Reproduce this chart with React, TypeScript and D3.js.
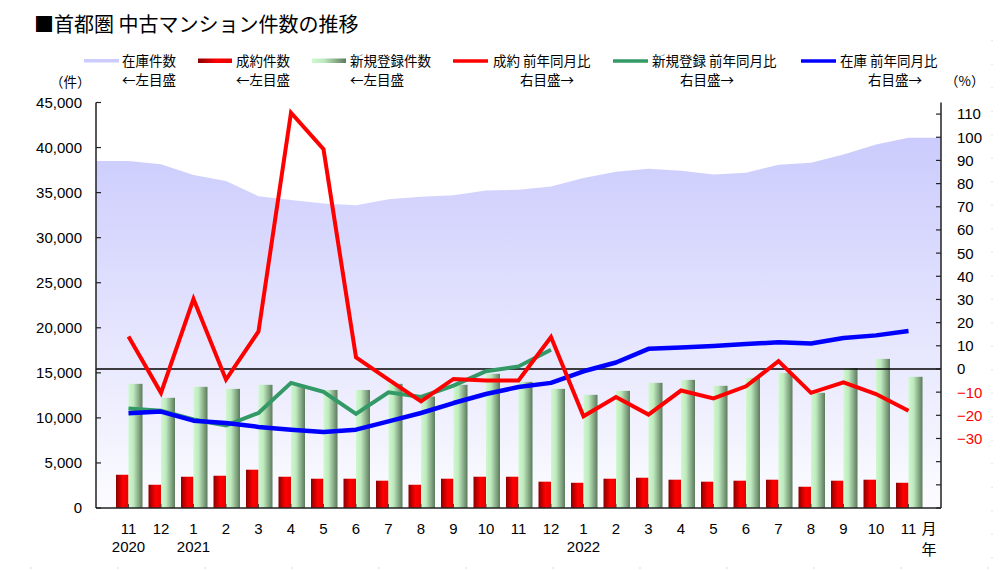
import React from "react";
import * as d3 from "d3";

const months = ["11","12","1","2","3","4","5","6","7","8","9","10","11","12","1","2","3","4","5","6","7","8","9","10","11"];
const yearLabels: [number, string][] = [[0, "2020"], [2, "2021"], [14, "2022"]];

// 在庫件数 (left axis)
const inventory = [38500, 38150, 36950, 36300, 34600, 34170, 33800, 33600, 34250, 34540, 34720, 35240, 35320, 35690, 36610, 37310, 37640, 37420, 37020, 37200, 38090, 38310, 39240, 40350, 41080];
// 成約件数 (left axis)
const contracts = [3690, 2580, 3470, 3580, 4250, 3470, 3250, 3250, 3030, 2580, 3250, 3470, 3470, 2920, 2800, 3250, 3360, 3140, 2920, 3030, 3140, 2360, 3030, 3140, 2800];
// 新規登録件数 (left axis)
const newListings = [13780, 12230, 13450, 13220, 13670, 13600, 13100, 13100, 13780, 12370, 13670, 14890, 14000, 13220, 12560, 13000, 13890, 14220, 13560, 14440, 15000, 12780, 15520, 16550, 14560];
// 成約 前年同月比 (right axis, %)
const contractsYoY = [14.0, -10.3, 30.2, -4.6, 16.2, 110.6, 94.9, 5.0, -4.6, -14.0, -4.3, -5.0, -5.0, 13.8, -20.4, -12.1, -19.7, -9.3, -12.7, -7.5, 3.4, -10.3, -5.8, -10.8, -18.0];
// 新規登録 前年同月比 (right axis, %) — ends 12/2021
const newListingsYoY = [-17.1, -18.0, -21.8, -24.4, -19.0, -6.0, -9.9, -19.4, -10.1, -12.1, -7.2, -1.0, 1.1, 8.3];
// 在庫 前年同月比 (right axis, %)
const inventoryYoY = [-19.1, -18.4, -22.3, -23.3, -25.0, -26.2, -27.2, -26.2, -22.6, -19.0, -14.7, -10.8, -7.8, -6.0, -1.0, 2.8, 8.7, 9.3, 9.9, 10.8, 11.5, 11.0, 13.4, 14.5, 16.4];

const leftTicks = d3.range(0, 45001, 5000);
const rightTicks = d3.range(-60, 111, 10);
const rightLabelMin = -30;

const FONT = "'Liberation Sans', Arial, 'Noto Sans CJK JP', sans-serif";
const JP = "'Noto Sans CJK JP', 'Liberation Sans', sans-serif";

export default function App() {
  const left = 96, right = 941, top = 102.5, bottom = 508;
  const x = d3.scaleLinear().domain([-1, months.length]).range([left, right]);
  const yL = d3.scaleLinear().domain([0, 45000]).range([bottom, top]);
  const yR = d3.scaleLinear().domain([-60, 115]).range([bottom, top]);

  const areaPts: [number, number][] = [
    [left, inventory[0]],
    ...inventory.map((v, i) => [x(i), v] as [number, number]),
    [right, inventory[inventory.length - 1]],
  ];
  const areaGen = d3.area<[number, number]>().x(d => d[0]).y0(bottom).y1(d => yL(d[1]));
  const lineGen = d3.line<number>().x((_, i) => x(i)).y(d => yR(d));

  const fmt = d3.format(",");
  const fmtR = (v: number) => (v < 0 ? "\u2212" + Math.abs(v) : String(v));

  return (
    <svg width={1006} height={570} style={{ position: "absolute", left: 0, top: 0, background: "#fff" }} fontFamily={FONT}>
      <defs>
        <linearGradient id="areaG" gradientUnits="userSpaceOnUse" x1="0" y1="137" x2="0" y2={bottom}>
          <stop offset="0" stopColor="#cbcbfd" />
          <stop offset="1" stopColor="#fcfcff" />
        </linearGradient>
        <linearGradient id="redG" x1="0" y1="0" x2="1" y2="0">
          <stop offset="0" stopColor="#8a0000" />
          <stop offset="0.55" stopColor="#ff0000" />
          <stop offset="1" stopColor="#e80000" />
        </linearGradient>
        <linearGradient id="greenG" x1="0" y1="0" x2="1" y2="0">
          <stop offset="0" stopColor="#cdf9cd" />
          <stop offset="0.35" stopColor="#bfeabf" />
          <stop offset="1" stopColor="#5c7a5c" />
        </linearGradient>
      </defs>

      {/* faint dotted frame remnants */}
      <line x1={992} x2={992} y1={40} y2={570} stroke="#d8d8d8" strokeDasharray="1.5 22" />
      <line x1={30} x2={1006} y1={568} y2={568} stroke="#d8d8d8" strokeDasharray="2 85" />

      {/* title */}
      <text x={34} y={32} fontSize={20} fontFamily={JP} fill="#000">■首都圏 中古マンション件数の推移</text>

      {/* legend */}
      <g fontFamily={JP} fontSize={13.5} fill="#000">
        <rect x={84} y={59} width={35} height={3.5} fill="#ccccff" />
        <text x={122} y={66}>在庫件数</text>
        <text x={122} y={85}>←左目盛</text>

        <rect x={198} y={58.5} width={34} height={4.5} fill="url(#redG)" />
        <text x={236} y={66}>成約件数</text>
        <text x={236} y={85}>←左目盛</text>

        <rect x={312} y={58.5} width={34} height={4.5} fill="url(#greenG)" />
        <text x={350} y={66}>新規登録件数</text>
        <text x={350} y={85}>←左目盛</text>

        <line x1={453} x2={488} y1={61} y2={61} stroke="#ff0000" strokeWidth={3.5} />
        <text x={493} y={66}>成約 前年同月比</text>
        <text x={520} y={85}>右目盛→</text>

        <line x1={613} x2={648} y1={61} y2={61} stroke="#339966" strokeWidth={3.5} />
        <text x={652} y={66}>新規登録 前年同月比</text>
        <text x={680} y={85}>右目盛→</text>

        <line x1={801} x2={836} y1={61} y2={61} stroke="#0000ff" strokeWidth={3.5} />
        <text x={840} y={66}>在庫 前年同月比</text>
        <text x={868} y={85}>右目盛→</text>

        <text x={50} y={87}>（件）</text>
        <text x={945} y={86}>（%）</text>
      </g>

      {/* inventory area */}
      <path d={areaGen(areaPts) || ""} fill="url(#areaG)" />

      {/* bars */}
      {contracts.map((v, i) => (
        <rect key={"c" + i} x={x(i) - 12.5} width={12.5} y={yL(v)} height={bottom - yL(v)} fill="url(#redG)" />
      ))}
      {newListings.map((v, i) => (
        <rect key={"n" + i} x={x(i)} width={14} y={yL(v)} height={bottom - yL(v)} fill="url(#greenG)" />
      ))}

      {/* category ticks */}
      {months.map((_, i) => (
        <line key={"t" + i} x1={x(i)} x2={x(i)} y1={bottom} y2={bottom - 4} stroke="#404040" strokeWidth={1} />
      ))}

      {/* zero line of right axis */}
      <line x1={left} x2={right} y1={yR(0)} y2={yR(0)} stroke="#000" strokeWidth={1.5} />

      {/* lines */}
      <path d={lineGen(newListingsYoY) || ""} fill="none" stroke="#339966" strokeWidth={4} strokeLinejoin="miter" />
      <path d={lineGen(inventoryYoY) || ""} fill="none" stroke="#0000ff" strokeWidth={4.5} strokeLinejoin="round" />
      <path d={lineGen(contractsYoY) || ""} fill="none" stroke="#ff0000" strokeWidth={4} strokeLinejoin="miter" />

      {/* axes */}
      <line x1={left} x2={left} y1={top} y2={bottom} stroke="#222" strokeWidth={1.5} />
      <line x1={right} x2={right} y1={top} y2={bottom} stroke="#222" strokeWidth={1.5} />
      <line x1={left} x2={right} y1={bottom} y2={bottom} stroke="#222" strokeWidth={1.5} />

      {leftTicks.map(v => (
        <g key={"l" + v}>
          <line x1={left} x2={left + 5} y1={yL(v)} y2={yL(v)} stroke="#222" strokeWidth={1.2} />
          <text x={82} y={yL(v)} dy="0.36em" textAnchor="end" fontSize={15} fill="#000">{fmt(v)}</text>
        </g>
      ))}

      {rightTicks.map(v => (
        <g key={"r" + v}>
          <line x1={right - 5} x2={right} y1={yR(v)} y2={yR(v)} stroke="#222" strokeWidth={1.2} />
          {v >= rightLabelMin && (
            <text x={957} y={yR(v)} dy="0.36em" fontSize={15} fill={v < 0 ? "#ff0000" : "#000"}>{fmtR(v)}</text>
          )}
        </g>
      ))}

      {/* x labels */}
      {months.map((m, i) => (
        <text key={"m" + i} x={x(i)} y={533.5} textAnchor="middle" fontSize={15} fill="#000">{m}</text>
      ))}
      {yearLabels.map(([i, y]) => (
        <text key={"y" + i} x={x(i)} y={552} textAnchor="middle" fontSize={15} fill="#000">{y}</text>
      ))}
      <text x={929} y={533.5} textAnchor="middle" fontSize={15} fontFamily={JP} fill="#000">月</text>
      <text x={929} y={555} textAnchor="middle" fontSize={15} fontFamily={JP} fill="#000">年</text>
    </svg>
  );
}
